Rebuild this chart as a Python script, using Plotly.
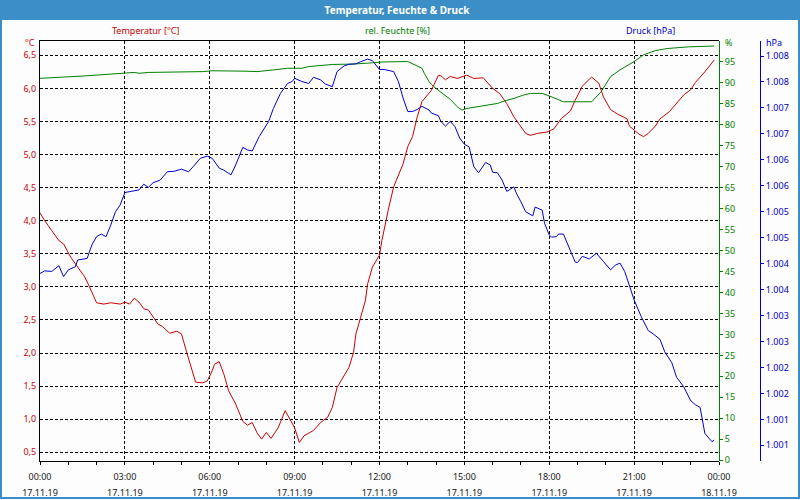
import plotly.graph_objects as go

DAY = "2019-11-17"

temp_time = ["00:00","00:10","00:25","00:40","00:50","01:05","01:20","01:35","01:45","02:00","02:15","02:30","02:50","03:00","03:10","03:20","03:30","03:40","03:50","04:10","04:20","04:35","04:50","05:00","05:10","05:20","05:30","05:45","05:55","06:05","06:10","06:20","06:30","06:40","06:55","07:10","07:20","07:30","07:40","07:50","08:00","08:10","08:25","08:40","09:00","09:10","09:20","09:40","09:55","10:10","10:20","10:30","10:55","11:05","11:10","11:20","11:30","11:35","11:45","12:00","12:05","12:20","12:30","12:50","13:00","13:10","13:20","13:30","13:50","14:05","14:10","14:20","14:30","14:45","14:55","15:05","15:20","15:40","15:50","16:00","16:15","16:30","16:45","17:00","17:10","17:20","17:35","17:55","18:10","18:25","18:45","18:55","19:10","19:25","19:30","19:45","19:55","20:10","20:25","20:45","20:50","21:00","21:10","21:20","21:30","21:45","21:55","22:15","22:30","22:45","23:00","23:10","23:30","23:50"]
temp_vals = [4.12,4.00,3.85,3.70,3.65,3.45,3.30,3.15,3.00,2.76,2.74,2.76,2.74,2.77,2.74,2.83,2.77,2.67,2.65,2.44,2.40,2.30,2.33,2.29,2.04,1.78,1.56,1.55,1.58,1.73,1.83,1.87,1.68,1.43,1.23,0.97,0.91,0.95,0.80,0.70,0.80,0.71,0.87,1.13,0.87,0.65,0.75,0.83,0.95,1.03,1.18,1.48,1.78,2.01,2.29,2.54,2.79,3.05,3.30,3.48,3.70,4.21,4.51,4.86,5.12,5.27,5.57,5.80,5.97,6.20,6.19,6.13,6.18,6.15,6.17,6.20,6.15,6.16,6.08,6.00,5.92,5.77,5.57,5.42,5.32,5.29,5.32,5.34,5.39,5.54,5.66,5.82,6.03,6.14,6.17,6.08,5.87,5.68,5.61,5.54,5.43,5.37,5.31,5.27,5.32,5.43,5.54,5.65,5.77,5.90,5.98,6.09,6.25,6.43]

hum_time = ["00:00","00:45","01:25","02:05","02:40","03:00","03:20","03:30","03:50","05:45","06:05","07:15","07:40","08:15","08:45","09:15","09:30","10:20","11:05","11:45","12:05","13:00","13:15","13:30","13:35","13:45","13:55","14:05","14:20","14:30","14:45","14:55","15:05","15:30","15:50","16:10","16:25","16:45","17:05","17:20","17:45","18:00","18:30","19:10","19:30","19:50","20:10","20:30","21:00","21:20","21:45","22:10","22:55","23:50"]
hum_vals = [91.1,91.3,91.6,91.9,92.2,92.3,92.5,92.3,92.5,92.7,92.9,92.8,92.7,93.1,93.5,93.5,93.9,94.4,94.5,94.8,95.0,95.1,94.3,93.5,92.3,90.3,89.1,88.3,86.9,86.1,84.3,83.5,83.9,84.3,84.7,85.1,85.7,86.3,87.1,87.5,87.5,86.9,85.5,85.4,85.5,87.9,91.5,93.1,95.1,96.7,97.7,98.2,98.6,98.8]

pres_time = ["00:00","00:10","00:25","00:40","00:50","01:00","01:15","01:20","01:40","01:50","02:00","02:10","02:20","02:30","02:40","02:50","03:00","03:15","03:30","03:40","03:50","04:00","04:15","04:30","04:45","05:00","05:15","05:25","05:40","05:55","06:05","06:20","06:30","06:45","06:55","07:10","07:20","07:30","07:45","08:05","08:15","08:30","08:45","08:55","09:00","09:15","09:30","09:40","09:55","10:05","10:20","10:30","10:45","10:55","11:10","11:20","11:35","11:45","11:55","12:00","12:10","12:30","12:40","12:50","13:00","13:10","13:20","13:30","13:45","13:50","14:05","14:10","14:20","14:30","14:40","14:50","15:00","15:10","15:20","15:30","15:45","15:55","16:00","16:10","16:20","16:30","16:45","16:50","17:00","17:10","17:25","17:30","17:45","17:50","18:00","18:05","18:15","18:20","18:30","18:45","18:55","19:00","19:10","19:25","19:40","19:55","20:10","20:20","20:30","20:40","20:50","21:00","21:15","21:30","21:40","21:55","22:05","22:20","22:30","22:45","23:00","23:10","23:20","23:25","23:30","23:45","23:50"]
pres_vals = [1004.06,1004.11,1004.10,1004.21,1004.00,1004.13,1004.19,1004.32,1004.35,1004.61,1004.77,1004.82,1004.77,1004.99,1005.25,1005.38,1005.62,1005.65,1005.67,1005.78,1005.72,1005.81,1005.86,1006.02,1006.03,1006.07,1006.02,1006.12,1006.28,1006.32,1006.28,1006.09,1006.05,1005.96,1006.15,1006.49,1006.44,1006.42,1006.70,1006.99,1007.24,1007.53,1007.72,1007.76,1007.82,1007.76,1007.72,1007.84,1007.79,1007.71,1007.66,1007.95,1008.06,1008.09,1008.10,1008.14,1008.19,1008.16,1008.05,1007.99,1007.99,1007.95,1007.76,1007.44,1007.18,1007.18,1007.22,1007.28,1007.21,1007.15,1007.10,1006.99,1006.90,1006.99,1006.89,1006.67,1006.55,1006.50,1006.12,1006.00,1006.20,1006.15,1006.01,1006.00,1005.86,1005.64,1005.73,1005.61,1005.44,1005.25,1005.17,1005.34,1005.28,1005.03,1004.80,1004.76,1004.77,1004.82,1004.82,1004.51,1004.28,1004.27,1004.39,1004.34,1004.45,1004.29,1004.13,1004.22,1004.26,1004.10,1003.81,1003.55,1003.23,1002.96,1002.90,1002.79,1002.55,1002.34,1002.06,1001.88,1001.61,1001.53,1001.48,1001.24,1000.98,1000.82,1000.85]

temp_ticks = [0.5, 1.0, 1.5, 2.0, 2.5, 3.0, 3.5, 4.0, 4.5, 5.0, 5.5, 6.0, 6.5]
hum_ticks = [0, 5, 10, 15, 20, 25, 30, 35, 40, 45, 50, 55, 60, 65, 70, 75, 80, 85, 90, 95]
pres_ticks = [1000.75, 1001.25, 1001.75, 1002.25, 1002.75, 1003.25, 1003.75, 1004.25,
              1004.75, 1005.25, 1005.75, 1006.25, 1006.75, 1007.25, 1007.75, 1008.25]
pres_ticktext = [f"{round(v):,}".replace(",", ".") for v in pres_ticks]

RED = "#cc0000"
GREEN = "#008000"
BLUE = "#0000cc"
FONT = "Noto Sans"

def ts(lst):
    return [f"{DAY} {t}:00" for t in lst]

# pixel geometry helpers (plot area: x 40..765, y 41..461)
L, R, T, B = 40, 765, 41, 461
W, H = R - L, B - T
def px(x):
    return (x - L) / W
def py(y):
    return (B - y) / H

X_RANGE = [f"{DAY} 00:00:00", "2019-11-18 00:00:00"]

fig = go.Figure()
fig.add_trace(go.Scatter(x=ts(temp_time), y=temp_vals, mode="lines",
                         line=dict(color=RED, width=1), yaxis="y"))
fig.add_trace(go.Scatter(x=ts(hum_time), y=hum_vals, mode="lines",
                         line=dict(color=GREEN, width=1), yaxis="y2"))
fig.add_trace(go.Scatter(x=ts(pres_time), y=pres_vals, mode="lines",
                         line=dict(color=BLUE, width=1), yaxis="y3"))
# empty traces so the label axes (time row, date row) are drawn
fig.add_trace(go.Scatter(x=[], y=[], mode="lines", xaxis="x2", yaxis="y", hoverinfo="skip"))
fig.add_trace(go.Scatter(x=[], y=[], mode="lines", xaxis="x3", yaxis="y", hoverinfo="skip"))

xdom_end = px(719)
label_axis = dict(
    type="date", domain=[0, xdom_end], automargin=False, overlaying="x", anchor="y",
    side="bottom", range=X_RANGE,
    tick0=f"{DAY} 00:00:00", dtick=3 * 3600000,
    showgrid=False, showline=False, ticks="", zeroline=False,
    tickfont=dict(family=FONT, size=9, color="#202020"),
)
fig.update_layout(
    width=800, height=500,
    margin=dict(l=L, r=800 - R, t=T, b=500 - B),
    paper_bgcolor="#fdfdfd", plot_bgcolor="#fdfdfd",
    showlegend=False,
    separators=",.",
    font=dict(family=FONT, size=9, color="#222222"),
    title=dict(text="<b>Temperatur, Feuchte & Druck</b>", x=397 / 800, xanchor="center",
               y=1 - 10 / 500, yanchor="middle", yref="container",
               font=dict(family=FONT, size=10, color="white")),
    xaxis=dict(
        type="date", domain=[0, xdom_end], automargin=False,
        range=X_RANGE,
        tick0=f"{DAY} 00:00:00", dtick=3 * 3600000,
        showticklabels=False,
        showgrid=True, gridcolor="black", griddash="3px,2px", gridwidth=1,
        showline=True, linecolor="black", linewidth=1, mirror=True,
        ticks="outside", ticklen=3, tickcolor="black",
        minor=dict(dtick=3600000, ticks="outside", ticklen=3, tickcolor="black", showgrid=False),
        zeroline=False,
    ),
    xaxis2=dict(label_axis, tickformat="%H:%M", ticklabelstandoff=9),
    xaxis3=dict(label_axis, tickformat="%d.%m.%y", ticklabelstandoff=25),
    yaxis=dict(
        range=[0.369, 6.716], tickvals=temp_ticks, tickformat=".1f", automargin=False,
        showgrid=True, gridcolor="black", griddash="3px,2px", gridwidth=1,
        showline=True, linecolor="black", linewidth=1,
        ticks="", tickfont=dict(family=FONT, size=9, color=RED),
        ticklabelstandoff=1, zeroline=False,
    ),
    yaxis2=dict(
        overlaying="y", anchor="free", position=xdom_end, side="right", automargin=False,
        range=[-0.2, 100], tickvals=hum_ticks,
        showgrid=False, showline=True, linecolor=GREEN, linewidth=1,
        ticks="outside", ticklen=3, tickcolor=GREEN,
        tickfont=dict(family=FONT, size=9, color=GREEN), zeroline=False,
    ),
    yaxis3=dict(
        overlaying="y", anchor="free", position=px(760), side="right", automargin=False,
        range=[1000.4475, 1008.539], tickvals=pres_ticks, ticktext=pres_ticktext,
        showgrid=False, showline=True, linecolor=BLUE, linewidth=1,
        ticks="outside", ticklen=3, tickcolor=BLUE,
        tickfont=dict(family=FONT, size=9, color=BLUE), zeroline=False,
    ),
    shapes=[
        dict(type="rect", xref="paper", yref="paper", x0=px(0), x1=px(800), y0=py(20), y1=py(0),
             fillcolor="#3c8fc6", line=dict(width=0), layer="below"),
        dict(type="rect", xref="paper", yref="paper", x0=px(1), x1=px(799), y0=py(498), y1=py(1),
             fillcolor="rgba(0,0,0,0)", line=dict(color="#3c8fc6", width=2), layer="above"),
    ],
    annotations=[
        dict(text="Temperatur [°C]", x=px(145), y=py(30), xref="paper", yref="paper",
             showarrow=False, xanchor="center", yanchor="middle", font=dict(color=RED, size=9)),
        dict(text="rel. Feuchte [%]", x=px(397), y=py(30), xref="paper", yref="paper",
             showarrow=False, xanchor="center", yanchor="middle", font=dict(color=GREEN, size=9)),
        dict(text="Druck [hPa]", x=px(650), y=py(30), xref="paper", yref="paper",
             showarrow=False, xanchor="center", yanchor="middle", font=dict(color=BLUE, size=9)),
        dict(text="°C", x=px(37), y=py(42), xref="paper", yref="paper",
             showarrow=False, xanchor="right", yanchor="middle", font=dict(color=RED, size=9)),
        dict(text="%", x=px(723), y=py(43), xref="paper", yref="paper",
             showarrow=False, xanchor="left", yanchor="middle", font=dict(color=GREEN, size=9)),
        dict(text="hPa", x=px(764), y=py(43), xref="paper", yref="paper",
             showarrow=False, xanchor="left", yanchor="middle", font=dict(color=BLUE, size=9)),
    ],
)

fig.write_html("out.html", config={"displayModeBar": False})
